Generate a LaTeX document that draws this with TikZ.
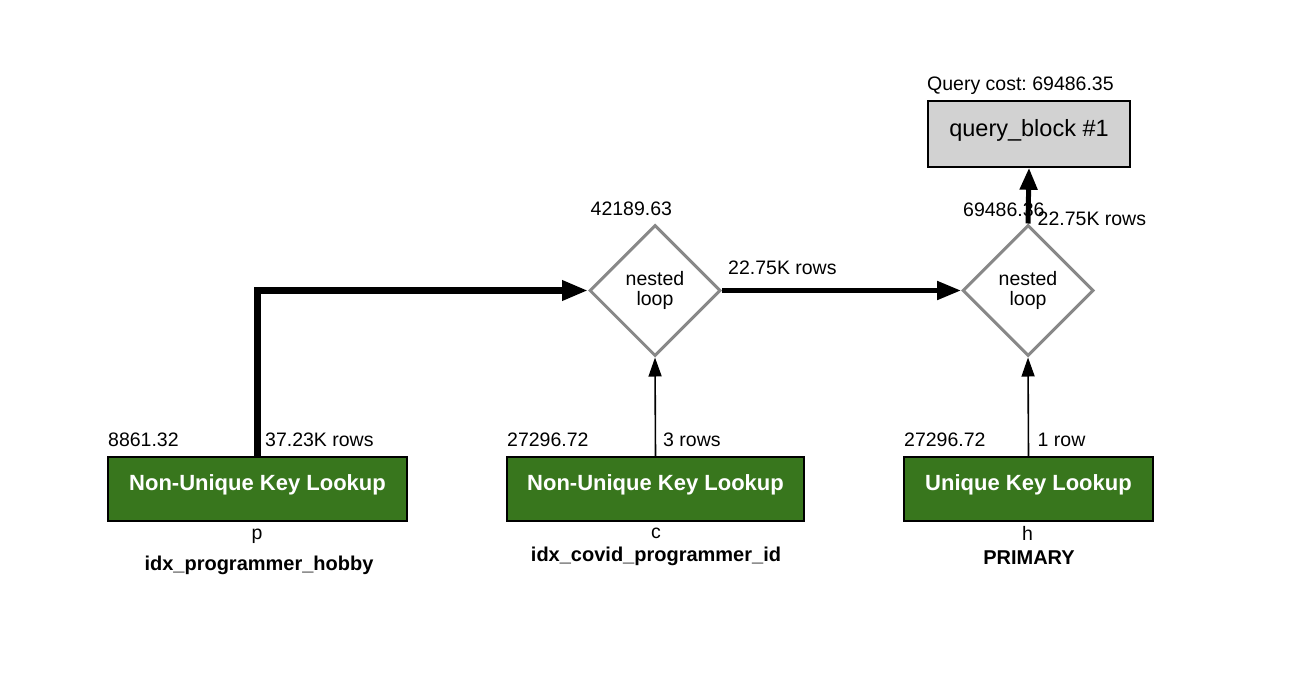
\documentclass[tikz,border=0pt]{standalone}
\usepackage{fontspec}
\setmainfont{Liberation Sans}
\usetikzlibrary{shapes.geometric,arrows.meta}
\frenchspacing
\definecolor{opgreen}{RGB}{56,118,29}
\definecolor{qbgray}{RGB}{210,210,210}
\definecolor{dmgray}{RGB}{136,136,136}
\newcommand\fnorm{\fontsize{19.5}{18.5}\selectfont}
\newcommand\fdia{\fontsize{19.5}{20.5}\selectfont}
\newcommand\fboldlbl{\fontsize{20}{22}\selectfont\bfseries}
\newcommand\fopbox{\fontsize{22}{24}\selectfont\bfseries}
\newcommand\fqb{\fontsize{23.5}{26}\selectfont}
\begin{document}
\begin{tikzpicture}[x=1pt,y=-1pt,
  lbl/.style={inner sep=0pt, anchor=base west, font=\fnorm},
  clbl/.style={inner sep=0pt, anchor=base, font=\fnorm},
  idxlbl/.style={inner sep=0pt, anchor=base, font=\fboldlbl},
  opbox/.style={draw=black, line width=1.6pt, fill=opgreen, text=white, font=\fopbox,
    inner sep=0pt, minimum height=64pt, text height=12pt, text depth=10pt},
  qbox/.style={draw=black, line width=1.6pt, fill=qbgray, font=\fqb,
    inner sep=0pt, minimum width=202pt, minimum height=66pt, text height=14pt, text depth=9pt},
  loopdia/.style={diamond, draw=dmgray, line width=3pt, fill=white, inner sep=0pt,
    minimum width=131pt, minimum height=131pt, align=center, font=\fdia},
  thickarr/.style={line width=7pt, -{Triangle[length=26pt,width=19pt]}},
  medarr/.style={line width=5pt, -{Triangle[length=24pt,width=18pt]}},
  toparr/.style={line width=5pt, -{Triangle[length=22pt,width=17pt]}},
  thinarr/.style={line width=1.6pt, -{Triangle[length=19pt,width=13pt]}}
]
\useasboundingbox (0,0) rectangle (1292,696);

% query block
\node[qbox] (qb) at (1029,134) {query\_block \#1};
\node[lbl] (qcost) at (927,90.5) {Query cost: 69486.35};

% nested loops
\node[loopdia] (d1) at (655,290.5) {nested\\loop};
\node[loopdia] (d2) at (1028,290.5) {nested\\loop};
\node[lbl] (c1) at (590.5,215.5) {42189.63};
\node[lbl] (c2) at (963,216) {69486.36};

% operation boxes
\node[opbox, minimum width=299pt] (b1) at (257.5,489) {Non-Unique Key Lookup};
\node[opbox, minimum width=297pt] (b2) at (655.5,489) {Non-Unique Key Lookup};
\node[opbox, minimum width=249pt] (b3) at (1028.5,489) {Unique Key Lookup};

% cost / row labels
\node[lbl] (k1) at (108,446) {8861.32};
\node[lbl] (r1) at (265,446) {37.23K rows};
\node[lbl] (k2) at (507,446) {27296.72};
\node[lbl] (r2) at (663,446) {3 rows};
\node[lbl] (k3) at (904,446) {27296.72};
\node[lbl] (r3) at (1037.5,446) {1 row};

% table / index labels
\node[clbl] (t1) at (257,539.5) {p};
\node[idxlbl] (i1) at (259,570.5) {idx\_programmer\_hobby};
\node[clbl] (t2) at (656,538.5) {c};
\node[idxlbl] (i2) at (656,561.5) {idx\_covid\_programmer\_id};
\node[clbl] (t3) at (1027.5,540.5) {h};
\node[idxlbl] (i3) at (1029,564) {PRIMARY};

% connectors
\draw[thickarr] (b1.north) |- (d1.west);
\draw[thinarr] (b2.north) -- (d1.south);
\draw[thinarr] (b3.north) -- (d2.south);
\draw[medarr] (d1.east) -- (d2.west);
\draw[toparr] (d2.north) -- (qb.south);

% connector labels
\node[lbl] (e1) at (728,274) {22.75K rows};
\node[lbl] (e2) at (1037.5,225.5) {22.75K rows};
\end{tikzpicture}
\end{document}
